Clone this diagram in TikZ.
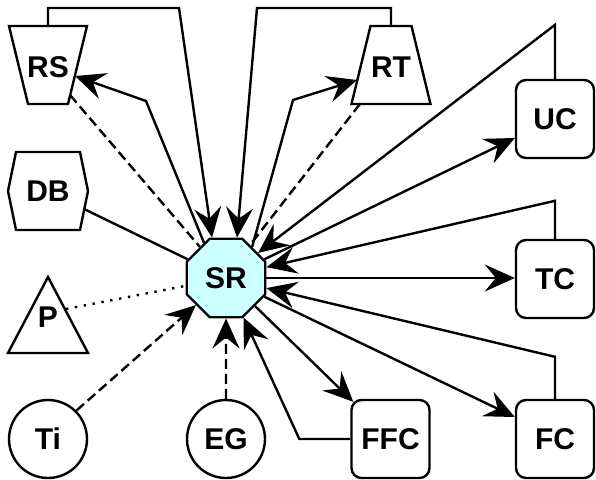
\documentclass[tikz,border=0pt]{standalone}
\usepackage{fontspec}
\setmainfont{Liberation Sans}
\usetikzlibrary{arrows.meta,shapes.geometric,calc}
\definecolor{hubfill}{RGB}{204,255,255}

\begin{document}
\begin{tikzpicture}[x=1pt,y=-1pt,line width=2.4pt,
  txt/.style={font=\fontsize{30}{36}\selectfont\bfseries, inner sep=0pt},
  box/.style={txt, draw, rounded corners=10pt, minimum width=78pt, minimum height=78pt},
  disc/.style={txt, draw, circle, minimum size=78pt},
  hub/.style={txt, draw, fill=hubfill, regular polygon, regular polygon sides=8, minimum size=85pt},
  outlinebox/.style={txt, minimum width=80pt, minimum height=80pt},
  arrowed/.style={-{Stealth[length=30pt,width=27pt,inset=11pt]}},
  dashedline/.style={dash pattern=on 10pt off 5pt},
  dottedline/.style={dash pattern=on 2.4pt off 6.6pt}
]
\useasboundingbox (0,0) rectangle (596,479);

% nodes
\node[hub] (SR) at (226,278) {SR};
\node[outlinebox] (RS) at (48,67) {RS};
\node[outlinebox] (RT) at (391,67) {RT};
\node[outlinebox] (DB) at (48,191) {DB};
\node[outlinebox] (P) at (48,317) {P};
\node[box] (UC) at (555,119) {UC};
\node[box] (TC) at (555,279) {TC};
\node[box] (FC) at (555,439) {FC};
\node[box] (FFC) at (390.5,439) {FFC};
\node[disc] (Ti) at (48,439) {Ti};
\node[disc] (EG) at (226,439) {EG};

% outlines of the irregular shapes
\draw ($(RS)+(-39,-41)$) -- ($(RS)+(39,-41)$) -- ($(RS)+(20,37)$) -- ($(RS)+(-20,37)$) -- cycle;
\draw ($(RT)+(-20.5,-41)$) -- ($(RT)+(20.5,-41)$) -- ($(RT)+(39.5,37)$) -- ($(RT)+(-39.5,37)$) -- cycle;
\draw ($(DB)+(-40,0)$) -- ($(DB)+(-32,-39)$) -- ($(DB)+(32,-39)$) -- ($(DB)+(40,0)$)
      -- ($(DB)+(32,39)$) -- ($(DB)+(-32,39)$) -- cycle;
\draw ($(P)+(0,-40)$) -- ($(P)+(40,36)$) -- ($(P)+(-40,36)$) -- cycle;

% links over the top into SR
\draw[arrowed] ($(RS)+(0,-41)$) |- (179,8) -- ($(SR.north)+(-14,0)$);
\draw[arrowed] ($(RT)+(0,-41)$) |- (257,8) -- ($(SR.north)+(11,0)$);

% SR and the upper shapes
\draw[arrowed] (SR.122) -- (146,101) -- ($(RS)+(27,9)$);
\draw[dashedline] ($(RS)+(22,28)$) -- (SR.130);
\draw[arrowed] (SR.50) -- (293,100) -- ($(RT)+(-34,13)$);
\draw[dashedline] ($(RT)+(-31,37)$) -- (SR.54);

% right-hand column
\draw[arrowed] (UC.north) -- ++(0,-54) -- (SR.38);
\draw[arrowed] (SR.26) -- ($(UC.west)+(0,19)$);
\draw[arrowed] (TC.north) -- ++(0,-38) -- (SR.15);
\draw[arrowed] (SR.east) -- (SR.east -| TC.west);
\draw[arrowed] (FC.north) -- ++(0,-42) -- (SR.-14);
\draw[arrowed] (SR.-26) -- ($(FC.west)+(0,-22)$);
\draw[arrowed] (SR.-44) -- ($(FFC.north west)+(3,3)$);
\draw[arrowed] (FFC.west) -- ++(-51,0) -- (SR.-66);

% left and bottom
\draw ($(DB)+(36,18)$) -- (SR.154);
\draw[dottedline] ($(P)+(18,-8)$) -- (SR.191);
\draw[arrowed,dashedline] (Ti.45) -- (SR.222);
\draw[arrowed,dashedline] (EG.north) -- (SR.south);
\end{tikzpicture}
\end{document}
